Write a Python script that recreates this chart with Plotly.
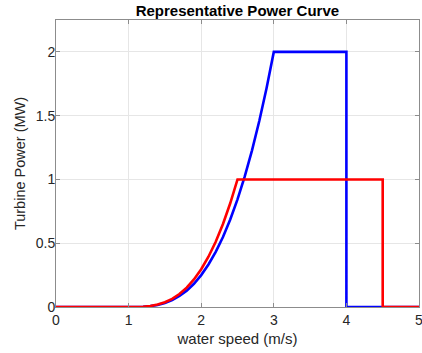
import plotly.graph_objects as go

# Water speed (m/s) and turbine power (MW) for the two turbines
speed_2mw = [0.0, 1.0, 1.1, 1.2, 1.3, 1.4, 1.5, 1.6, 1.7, 1.8, 1.9, 2.0, 2.1, 2.2,
             2.3, 2.4, 2.5, 2.6, 2.7, 2.8, 2.9, 3.0, 4.0, 4.0, 5.0]
power_2mw = [0.0, 0.0, 0.000, 0.002, 0.007, 0.016, 0.031, 0.054, 0.086, 0.128,
             0.182, 0.25, 0.333, 0.432, 0.549, 0.686, 0.844, 1.024, 1.228, 1.458,
             1.715, 2.0, 2.0, 0.0, 0.0]

speed_1mw = [0.0, 1.0, 1.1, 1.2, 1.3, 1.4, 1.5, 1.6, 1.7, 1.8, 1.9, 2.0, 2.1, 2.2,
             2.3, 2.4, 2.5, 4.5, 4.5, 5.0]
power_1mw = [0.0, 0.0, 0.000, 0.002, 0.008, 0.019, 0.037, 0.064, 0.102, 0.152,
             0.216, 0.296, 0.394, 0.512, 0.651, 0.813, 1.0, 1.0, 0.0, 0.0]

x_ticks = [0, 1, 2, 3, 4, 5]
y_ticks = [0, 0.5, 1, 1.5, 2]
y_tick_text = ["0", "0.5", "1", "1.5", "2"]

fig = go.Figure()
fig.add_trace(go.Scatter(x=speed_2mw, y=power_2mw, mode="lines",
                         line=dict(color="#0000FF", width=2.6), showlegend=False))
fig.add_trace(go.Scatter(x=speed_1mw, y=power_1mw, mode="lines",
                         line=dict(color="#FF0000", width=2.6), showlegend=False))

font = "Liberation Sans, Arial, Helvetica, sans-serif"
axis_common = dict(
    showline=True, linecolor="#8c8c8c", linewidth=1, mirror="ticks",
    ticks="inside", ticklen=4, tickcolor="#8c8c8c",
    showgrid=True, gridcolor="#e6e6e6", gridwidth=1,
    zeroline=False, tickfont=dict(family=font, size=14, color="#262626"),
    ticklabeloverflow="allow", automargin=False,
)

fig.update_layout(
    width=422, height=353,
    margin=dict(l=56, r=3, t=20, b=46),
    paper_bgcolor="white", plot_bgcolor="white",
    title=dict(text="<b>Representative Power Curve</b>", x=0.5625, xanchor="center",
               y=0.97, yanchor="middle",
               font=dict(family=font, size=15, color="black")),
    xaxis=dict(range=[0, 5], tickvals=x_ticks,
               title=dict(text="water speed (m/s)", standoff=6,
                          font=dict(family=font, size=15, color="#262626")),
               **axis_common),
    yaxis=dict(range=[0, 2.25], tickvals=y_ticks, ticktext=y_tick_text,
               ticklabelstandoff=-3,
               title=dict(text="Turbine Power (MW)", standoff=6,
                          font=dict(family=font, size=14.5, color="#262626")),
               **axis_common),
)

fig.write_html("out.html")
